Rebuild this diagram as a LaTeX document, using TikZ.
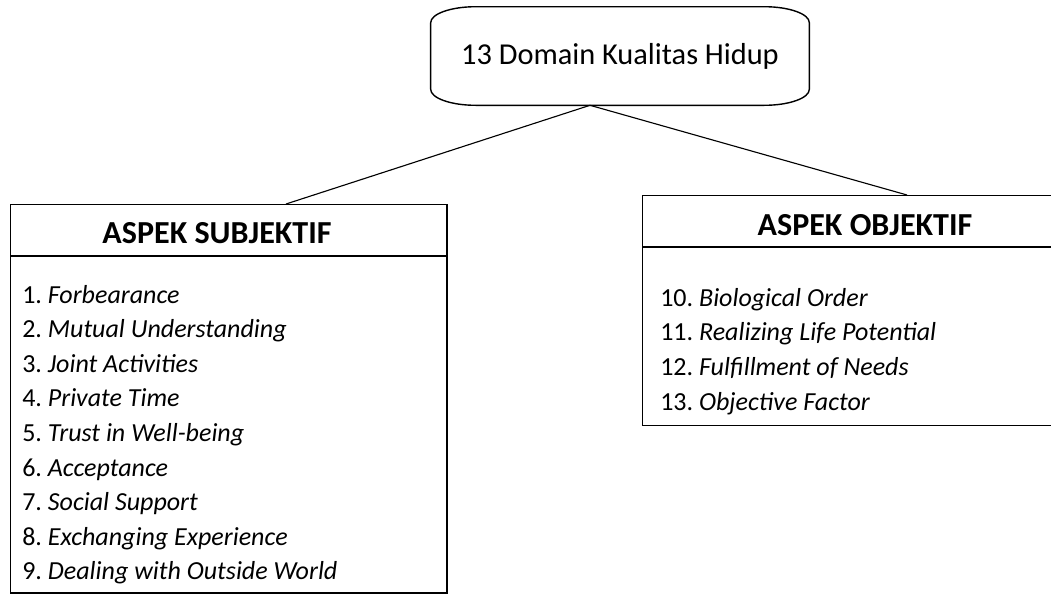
\documentclass[tikz,border=0pt]{standalone}
\usepackage{fontspec}
\setmainfont{Carlito}
\usetikzlibrary{positioning,calc}

\begin{document}
\begin{tikzpicture}[
  x=0.025cm, y=0.025cm,
  link/.style={draw=black,line width=0.8pt},
  frame/.style={draw=black,line width=1pt},
  panel/.style={frame,anchor=north west,inner sep=0pt},
  head/.style={inner sep=0pt,font=\fontsize{22.8pt}{26pt}\selectfont\bfseries},
  item/.style={anchor=base west,inner sep=0pt,font=\fontsize{18.5pt}{22pt}\selectfont}
]
  \clip (0,0) rectangle (1051,-594);

  % top node with oval corners
  \node[minimum width=9.45cm,minimum height=2.45cm,inner sep=0pt,
        font=\fontsize{21.6pt}{26pt}\selectfont] (domain) at (620,-56) {13 Domain Kualitas Hidup};
  \draw[frame] ($(domain.north west)+(45,0)$) -- ($(domain.north east)+(-45,0)$)
    arc[start angle=90,end angle=0,x radius=45,y radius=16]
    -- ($(domain.south east)+(0,16)$)
    arc[start angle=0,end angle=-90,x radius=45,y radius=16]
    -- ($(domain.south west)+(45,0)$)
    arc[start angle=270,end angle=180,x radius=45,y radius=16]
    -- ($(domain.north west)+(0,-16)$)
    arc[start angle=180,end angle=90,x radius=45,y radius=16] -- cycle;

  % panels
  \node[panel,minimum width=10.9cm,minimum height=9.7cm] (subjbox) at (10,-204) {};
  \node[panel,minimum width=11.15cm,minimum height=5.75cm] (objbox) at (642,-195) {};
  \draw[frame] ($(subjbox.north west)+(0,-52)$) -- ($(subjbox.north east)+(0,-52)$);
  \draw[frame] ($(objbox.north west)+(0,-52)$) -- ($(objbox.north east)+(0,-52)$);
  \node[head] (subj) at (217,-233) {ASPEK SUBJEKTIF};
  \node[head] (obj) at (865,-225) {ASPEK OBJEKTIF};

  % items
  \foreach \txt [count=\i] in {Forbearance,Mutual Understanding,Joint Activities,
      Private Time,Trust in Well-being,Acceptance,Social Support,
      Exchanging Experience,Dealing with Outside World}
    \node[item] (subj-\i) at (22,{-303-34.6*(\i-1)}) {\i.~\textit{\txt}};
  \foreach \txt [count=\i from 10] in {Biological Order,Realizing Life Potential,
      Fulfillment of Needs,Objective Factor}
    \node[item] (obj-\i) at (660,{-306-34.7*(\i-10)}) {\i.~\textit{\txt}};

  % connectors
  \coordinate (hub) at ($(domain.south)+(-30,0)$);
  \draw[link] (hub) -- ($(subjbox.north west)+(276,0)$);
  \draw[link] (hub) -- ($(objbox.north west)+(265,0)$);
\end{tikzpicture}
\end{document}
